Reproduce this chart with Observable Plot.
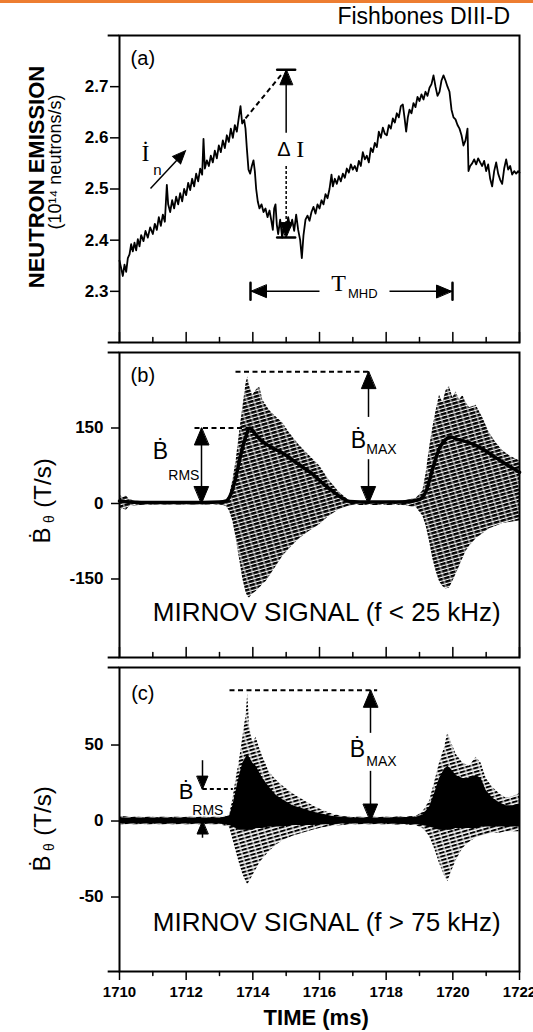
<!DOCTYPE html>
<html>
<head>
<meta charset="utf-8">
<script src="https://cdn.jsdelivr.net/npm/d3@7"></script>
<script src="https://cdn.jsdelivr.net/npm/@observablehq/plot@0.6"></script>
<style>
html, body { margin: 0; padding: 0; background: #fff; }
#wrap { position: relative; width: 533px; height: 1032px; overflow: hidden; background: #fff; }
#bar { position: absolute; left: 0; top: 0; width: 533px; height: 3px; background: #ED7D31; }
#title { position: absolute; right: 23px; top: 5px; font-family: "Liberation Sans", Arial, sans-serif; font-size: 23px; line-height: 23px; color: #000; white-space: nowrap; }
.panel { position: absolute; left: 0; }
</style>
</head>
<body>
<svg width="0" height="0" style="position:absolute;left:0;top:0">
  <defs>
    <pattern id="hatchB" patternUnits="userSpaceOnUse" width="7" height="3.6" patternTransform="rotate(-16)">
      <rect width="7" height="3.6" fill="#000"></rect>
      <rect y="2.5" width="7" height="1.1" fill="#fff"></rect>
      <rect x="4.5" y="0" width="0.9" height="2.5" fill="#fff"></rect>
    </pattern>
    <pattern id="hatchC" patternUnits="userSpaceOnUse" width="7" height="3.6" patternTransform="rotate(-16)">
      <rect width="7" height="3.6" fill="#fff"></rect>
      <rect width="7" height="2" fill="#000"></rect>
      <rect x="3.5" y="0" width="1.2" height="2" fill="#fff"></rect>
    </pattern>
  </defs>
</svg>
<div id="wrap">
  <div id="bar"></div>
  <div id="pa" class="panel" style="top:0px"></div>
  <div id="pb" class="panel" style="top:345px"></div>
  <div id="pc" class="panel" style="top:660px"></div>
  <div id="title">Fishbones DIII-D</div>
</div>
<script>
// ---------------- DATA ----------------
// Shared time axis (ms)
const timeDomain = [1710, 1722];
const timeTicks = [1710, 1712, 1714, 1716, 1718, 1720, 1722];
const timeMinorTicks = [1711, 1713, 1715, 1717, 1719, 1721];

// Panel (a): neutron emission (10^14 neutrons/s)
const neutronDomain = [2.2, 2.8];
const neutronTicks = [2.3, 2.4, 2.5, 2.6, 2.7];
const neutronT = [
  1710.00,1710.05,1710.10,1710.15,1710.20,1710.25,1710.30,1710.35,1710.40,1710.45,
  1710.50,1710.55,1710.60,1710.65,1710.72,1710.78,1710.85,1710.92,1711.00,1711.06,
  1711.12,1711.18,1711.24,1711.30,1711.36,1711.42,1711.46,1711.52,1711.58,1711.64,
  1711.70,1711.76,1711.82,1711.88,1711.94,1712.00,1712.06,1712.12,1712.18,1712.24,
  1712.30,1712.36,1712.42,1712.48,1712.52,1712.56,1712.62,1712.68,1712.74,1712.80,
  1712.86,1712.92,1712.98,1713.04,1713.10,1713.16,1713.22,1713.28,1713.34,1713.40,
  1713.46,1713.52,1713.58,1713.63,1713.68,1713.74,1713.78,1713.82,1713.87,1713.92,
  1713.97,1714.02,1714.06,1714.10,1714.15,1714.20,1714.26,1714.32,1714.38,1714.44,
  1714.50,1714.55,1714.60,1714.64,1714.68,1714.72,1714.76,1714.82,1714.88,1714.94,
  1715.00,1715.06,1715.12,1715.18,1715.24,1715.30,1715.36,1715.42,1715.47,1715.52,
  1715.58,1715.64,1715.70,1715.76,1715.82,1715.88,1715.94,1716.00,1716.06,1716.12,
  1716.18,1716.24,1716.30,1716.36,1716.40,1716.46,1716.52,1716.58,1716.64,1716.70,
  1716.76,1716.82,1716.88,1716.94,1717.00,1717.06,1717.12,1717.18,1717.24,1717.30,
  1717.36,1717.42,1717.48,1717.54,1717.60,1717.66,1717.72,1717.78,1717.84,1717.90,
  1717.96,1718.02,1718.08,1718.14,1718.20,1718.26,1718.32,1718.38,1718.44,1718.50,
  1718.55,1718.60,1718.65,1718.70,1718.76,1718.82,1718.88,1718.94,1719.00,1719.06,
  1719.12,1719.18,1719.24,1719.30,1719.36,1719.42,1719.48,1719.54,1719.60,1719.66,
  1719.72,1719.78,1719.84,1719.90,1719.96,1720.02,1720.08,1720.14,1720.20,1720.26,
  1720.32,1720.38,1720.44,1720.47,1720.52,1720.58,1720.64,1720.70,1720.76,1720.82,
  1720.88,1720.94,1721.00,1721.06,1721.12,1721.18,1721.24,1721.30,1721.36,1721.42,
  1721.48,1721.54,1721.60,1721.66,1721.72,1721.78,1721.84,1721.90,1721.96,1722.00
];
const neutronV = [
  2.360,2.345,2.330,2.352,2.338,2.365,2.372,2.392,2.378,2.395,
  2.380,2.402,2.388,2.410,2.398,2.418,2.405,2.425,2.412,2.432,
  2.420,2.445,2.428,2.450,2.436,2.508,2.470,2.455,2.478,2.462,
  2.485,2.470,2.492,2.476,2.500,2.488,2.512,2.498,2.520,2.505,
  2.530,2.515,2.540,2.528,2.598,2.540,2.556,2.545,2.565,2.552,
  2.575,2.560,2.585,2.572,2.595,2.580,2.605,2.592,2.618,2.600,
  2.625,2.612,2.640,2.662,2.628,2.635,2.618,2.580,2.538,2.530,
  2.545,2.556,2.535,2.500,2.475,2.462,2.470,2.455,2.462,2.445,
  2.458,2.440,2.420,2.462,2.470,2.430,2.412,2.440,2.405,2.430,
  2.415,2.445,2.425,2.440,2.418,2.450,2.420,2.400,2.365,2.410,
  2.440,2.448,2.438,2.455,2.465,2.452,2.470,2.462,2.478,2.470,
  2.490,2.482,2.500,2.528,2.505,2.520,2.510,2.525,2.515,2.530,
  2.522,2.540,2.532,2.548,2.538,2.545,2.535,2.555,2.545,2.572,
  2.558,2.565,2.552,2.580,2.572,2.590,2.582,2.612,2.600,2.620,
  2.608,2.605,2.625,2.618,2.638,2.630,2.648,2.640,2.662,2.665,
  2.640,2.612,2.640,2.655,2.648,2.668,2.660,2.680,2.672,2.685,
  2.675,2.690,2.682,2.698,2.705,2.722,2.700,2.682,2.690,2.712,
  2.722,2.712,2.700,2.690,2.655,2.640,2.636,2.625,2.618,2.605,
  2.585,2.595,2.618,2.535,2.545,2.550,2.558,2.548,2.560,2.552,
  2.545,2.555,2.535,2.548,2.520,2.505,2.535,2.552,2.530,2.518,
  2.510,2.540,2.558,2.538,2.545,2.528,2.535,2.530,2.535,2.532
];

// Panel (b): Mirnov signal f < 25 kHz (T/s) — envelope of the oscillation and its RMS
const mirnovLowDomain = [-306, 300];
const mirnovLowTicks = [-150, 0, 150];
const bT = [
  1710.0,1710.1,1710.2,1710.3,1710.4,1710.6,1711.0,1711.5,1712.0,1712.5,
  1713.0,1713.2,1713.3,1713.4,1713.5,1713.6,1713.7,1713.8,1713.85,1713.9,
  1714.0,1714.1,1714.2,1714.25,1714.3,1714.4,1714.5,1714.7,1714.9,1715.1,
  1715.4,1715.7,1716.0,1716.3,1716.6,1716.85,1717.0,1717.5,1718.0,1718.5,
  1718.9,1719.1,1719.2,1719.3,1719.4,1719.5,1719.6,1719.7,1719.8,1719.9,
  1720.0,1720.1,1720.2,1720.3,1720.4,1720.5,1720.7,1720.9,1721.1,1721.3,
  1721.5,1721.7,1721.9,1722.0
];
const bHi = [
  18,12,15,8,6,4,3,3,3,4,
  4,6,15,45,85,140,190,240,252,235,
  215,225,232,220,205,195,185,172,160,140,
  115,95,75,45,22,8,4,4,4,5,
  10,25,60,110,150,185,215,200,225,232,
  210,222,205,215,200,190,195,170,140,120,
  105,95,88,85
];
const bLo = [
  -15,-10,-14,-6,-5,-4,-3,-3,-3,-3,
  -3,-6,-15,-35,-70,-110,-150,-178,-185,-188,
  -180,-175,-168,-165,-160,-155,-145,-125,-105,-90,
  -70,-55,-42,-25,-12,-6,-4,-4,-4,-4,
  -8,-25,-45,-75,-110,-135,-155,-165,-170,-168,
  -155,-140,-125,-110,-95,-85,-70,-60,-50,-45,
  -40,-38,-36,-35
];
const bRmsT = [
  1710,1710.3,1711,1712,1713,1713.2,1713.35,1713.5,1713.65,1713.8,
  1713.9,1714.05,1714.2,1714.4,1714.6,1714.9,1715.2,1715.5,1715.8,1716.1,
  1716.4,1716.7,1716.9,1717.5,1718.5,1719.0,1719.2,1719.4,1719.6,1719.8,
  1719.95,1720.1,1720.3,1720.6,1720.9,1721.2,1721.5,1721.8,1722
];
const bRmsV = [
  5,3,2,2,3,5,20,55,100,135,
  150,140,128,118,110,100,86,72,58,40,
  24,10,4,3,3,8,25,70,110,128,
  132,128,125,118,108,95,82,70,62
];
const bMax = 262, bRms = 150;

// Panel (c): Mirnov signal f > 75 kHz (T/s)
const mirnovHighDomain = [-99, 101];
const mirnovHighTicks = [-50, 0, 50];
const cT = [
  1710.0,1710.5,1711.0,1712.0,1713.0,1713.3,1713.4,1713.5,1713.6,1713.7,
  1713.8,1713.85,1713.9,1714.0,1714.1,1714.2,1714.3,1714.5,1714.7,1714.9,
  1715.2,1715.5,1715.8,1716.1,1716.4,1716.7,1717.0,1718.0,1718.9,1719.1,
  1719.3,1719.45,1719.6,1719.75,1719.85,1719.95,1720.1,1720.3,1720.5,1720.7,
  1720.85,1721.0,1721.2,1721.4,1721.6,1721.8,1722.0
];
const cHi = [
  3,2.5,2.5,2.5,2.5,4,14,28,40,55,
  70,85,62,52,55,48,42,32,27,23,
  18,14,10,7,4.5,3,2.5,2.5,3,6,
  13,25,38,48,58,52,44,38,36,42,
  38,28,22,18,15,16,18
];
const cLo = [
  -2.5,-2.5,-2.5,-2.5,-2.5,-4,-12,-20,-28,-35,
  -40,-42,-40,-36,-32,-28,-25,-20,-16,-13,
  -10,-8,-6,-4.5,-3.5,-3,-2.5,-2.5,-3,-5,
  -10,-18,-28,-36,-40,-34,-26,-18,-14,-11,
  -10,-9,-8,-8,-7,-7,-7
];
const cCoreHi = [
  2,2,2,2,2,3,10,20,30,38,
  42,44,42,38,36,32,28,22,17,14,
  10,8,6,4.5,3,2.5,2,2,2.5,4,
  9,18,28,34,36,34,30,28,28,30,
  28,20,15,12,10,10,11
];
const cCoreLo = [
  -2,-2,-2,-2,-2,-3,-4,-5,-6,-6,
  -6,-6,-6,-6,-5,-5,-5,-4,-4,-4,
  -3,-3,-3,-2.5,-2.5,-2,-2,-2,-2.5,-3,
  -4,-5,-6,-6,-6,-6,-5,-5,-5,-5,
  -4,-4,-4,-4,-4,-4,-4
];
const cMax = 86, cRms = 21;

// ---------------- CHART ----------------
const FONT = '"Liberation Sans", Arial, Helvetica, sans-serif';
const SERIF = '"Liberation Serif", "Times New Roman", serif';
const BLACK = "#000";
const svgStyle = {fontFamily: FONT, fontSize: "16px", color: BLACK, background: "transparent", overflow: "visible"};
const W = 533, ML = 119, MR = 14;
const frameExtendT = 1709.66;

const lineShape = {draw(c, l) { c.moveTo(0, 0); c.lineTo(0, -l); }};
const barShape = {draw(c, l) { c.moveTo(0, -l / 2); c.lineTo(0, l / 2); }};
const headShape = {draw(c, l) { const w = l * 0.42; c.moveTo(0, 0); c.lineTo(-w, l); c.lineTo(w, l); c.closePath(); }};

const neutron = neutronT.map((t, i) => ({t, v: neutronV[i]}));
const bEnv = bT.map((t, i) => ({t, hi: bHi[i], lo: bLo[i]}));
const bRmsSeries = bRmsT.map((t, i) => ({t, v: bRmsV[i]}));
const cEnv = cT.map((t, i) => ({t, hi: cHi[i], lo: cLo[i], chi: cCoreHi[i], clo: cCoreLo[i]}));

const frameMarks = (dom) => [
  Plot.frame({stroke: BLACK, strokeWidth: 2}),
  Plot.ruleY([dom[0], dom[1]], {x1: frameExtendT, x2: timeDomain[0], stroke: BLACK, strokeWidth: 2})
];
const innerTicks = () => [
  Plot.vectorX(timeTicks, {x: d => d, frameAnchor: "bottom", length: 10, anchor: "start", shape: lineShape, stroke: BLACK, strokeWidth: 1.5}),
  Plot.vectorX(timeMinorTicks, {x: d => d, frameAnchor: "bottom", length: 5, anchor: "start", shape: lineShape, stroke: BLACK, strokeWidth: 1.5})
];
const links = (arr, o = {}) => Plot.link(arr, {x1: "t1", y1: "v1", x2: "t2", y2: "v2", stroke: BLACK, strokeWidth: 1.5, ...o});
const heads = (arr, len = 14) => Plot.vector(arr, {x: "t", y: "v", rotate: "ang", length: len, anchor: "start", shape: headShape, fill: BLACK, stroke: BLACK, strokeWidth: 1, strokeLinejoin: "miter"});
const caps = (arr, len = 18) => Plot.vector(arr, {x: "t", y: "v", rotate: "ang", length: len, anchor: "start", shape: barShape, stroke: BLACK, strokeWidth: 2.5});
const txt = (arr, o = {}) => Plot.text(arr, {x: "t", y: "v", text: "s", fill: BLACK, ...o});
const sideLabel = (s, dx, dy, o = {}) => Plot.text([s], {frameAnchor: "left", rotate: -90, textAnchor: "middle", lineAnchor: "middle", dx, dy, fill: BLACK, ...o});
const dash = "5,3.5";

// ----- Panel (a)
const deltaT = 1715.0;
const plotA = Plot.plot({
  width: W, height: 348, marginLeft: ML, marginRight: MR, marginTop: 35, marginBottom: 6,
  x: {domain: timeDomain, axis: null},
  y: {domain: neutronDomain, axis: null},
  style: svgStyle,
  marks: [
    ...frameMarks(neutronDomain),
    Plot.axisY({ticks: neutronTicks, tickSize: 9, tickPadding: 2, tickFormat: d => d.toFixed(1), fontSize: 17, fontWeight: "bold", label: null, strokeWidth: 1.5}),
    ...innerTicks(),
    Plot.line(neutron, {x: "t", y: "v", stroke: BLACK, strokeWidth: 1.8}),
    // dashed extrapolation of the rise
    links([{t1: 1713.78, v1: 2.638, t2: 1714.9, v2: 2.727}], {strokeWidth: 2, strokeDasharray: dash}),
    // Delta I
    links([{t1: deltaT, v1: 2.733, t2: deltaT, v2: 2.61}]),
    links([{t1: deltaT, v1: 2.545, t2: deltaT, v2: 2.41}], {strokeDasharray: "3,2"}),
    caps([{t: deltaT, v: 2.733, ang: 90}, {t: deltaT, v: 2.405, ang: 90}], 18),
    heads([{t: deltaT, v: 2.733, ang: 0}, {t: deltaT, v: 2.405, ang: 180}], 15),
    txt([{t: 1714.93, v: 2.577, s: "Δ"}], {fontSize: 20}),
    txt([{t: 1715.42, v: 2.577, s: "I"}], {fontSize: 24, fontFamily: SERIF}),
    // I_n rate arrow
    links([{t1: 1710.93, v1: 2.501, t2: 1711.93, v2: 2.571}]),
    heads([{t: 1711.98, v: 2.575, ang: 43}], 13),
    txt([{t: 1710.78, v: 2.569, s: "İ"}], {fontSize: 24, fontFamily: SERIF}),
    txt([{t: 1711.14, v: 2.536, s: "n"}], {fontSize: 15}),
    // T_MHD
    links([{t1: 1713.93, v1: 2.30, t2: 1716.0, v2: 2.30}, {t1: 1718.1, v1: 2.30, t2: 1719.99, v2: 2.30}]),
    caps([{t: 1713.93, v: 2.30, ang: 0}, {t: 1719.99, v: 2.30, ang: 0}], 17),
    heads([{t: 1713.96, v: 2.30, ang: -90}, {t: 1719.96, v: 2.30, ang: 90}], 15),
    txt([{t: 1716.57, v: 2.315, s: "T"}], {fontSize: 24, fontFamily: SERIF}),
    txt([{t: 1717.3, v: 2.296, s: "MHD"}], {fontSize: 13}),
    txt([{t: 1710.7, v: 2.755, s: "(a)"}], {fontSize: 20}),
    sideLabel("NEUTRON EMISSION", -83, -12, {fontSize: 22, fontWeight: "bold"}),
    sideLabel("(10¹⁴ neutrons/s)", -64, -27, {fontSize: 18})
  ]
});
document.getElementById("pa").appendChild(plotA);

// ----- Panel (b)
const bMaxT = 1717.47, bRmsArrowT = 1712.46;
const plotB = Plot.plot({
  width: W, height: 315, marginLeft: ML, marginRight: MR, marginTop: 7, marginBottom: 3,
  x: {domain: timeDomain, axis: null},
  y: {domain: mirnovLowDomain, axis: null},
  style: svgStyle,
  marks: [
    Plot.area(bEnv, {x1: "t", y1: "lo", y2: "hi", fill: "url(#hatchB)", curve: "linear"}),
    Plot.line(bRmsSeries, {x: "t", y: "v", stroke: BLACK, strokeWidth: 3.5, curve: "monotone-x"}),
    ...frameMarks(mirnovLowDomain),
    Plot.axisY({ticks: mirnovLowTicks, tickSize: 8, tickPadding: 8, tickFormat: d => String(d), fontSize: 17, fontWeight: "bold", label: null, strokeWidth: 1.5}),
    ...innerTicks(),
    // B_MAX
    links([{t1: 1713.48, v1: bMax, t2: bMaxT, v2: bMax}], {strokeWidth: 2, strokeDasharray: dash}),
    links([{t1: bMaxT, v1: bMax, t2: bMaxT, v2: 172}, {t1: bMaxT, v1: 88, t2: bMaxT, v2: 0}]),
    heads([{t: bMaxT, v: bMax, ang: 0}, {t: bMaxT, v: 0, ang: 180}], 17),
    txt([{t: 1717.17, v: 125, s: "Ḃ"}], {fontSize: 23}),
    txt([{t: 1717.86, v: 107, s: "MAX"}], {fontSize: 14}),
    // B_RMS
    links([{t1: 1712.25, v1: bRms, t2: 1713.9, v2: bRms}], {strokeWidth: 2, strokeDasharray: dash}),
    links([{t1: bRmsArrowT, v1: bRms, t2: bRmsArrowT, v2: 0}]),
    heads([{t: bRmsArrowT, v: bRms, ang: 0}, {t: bRmsArrowT, v: 0, ang: 180}], 17),
    txt([{t: 1711.23, v: 103, s: "Ḃ"}], {fontSize: 23}),
    txt([{t: 1711.93, v: 55, s: "RMS"}], {fontSize: 14}),
    txt([{t: 1710.7, v: 254, s: "(b)"}], {fontSize: 20}),
    txt([{t: 1711.0, v: -217, s: "MIRNOV SIGNAL (f < 25 kHz)"}], {fontSize: 26, textAnchor: "start"}),
    sideLabel("Ḃ", -77, 30.5, {fontSize: 24}),
    sideLabel("θ", -70, 14, {fontSize: 14}),
    sideLabel("(T/s)", -76, -22, {fontSize: 24})
  ]
});
document.getElementById("pb").appendChild(plotB);

// ----- Panel (c)
const cMaxT = 1717.53, cRmsArrowT = 1712.49;
const plotC = Plot.plot({
  width: W, height: 372, marginLeft: ML, marginRight: MR, marginTop: 7, marginBottom: 61,
  x: {domain: timeDomain, axis: null},
  y: {domain: mirnovHighDomain, axis: null},
  style: svgStyle,
  marks: [
    Plot.area(cEnv, {x1: "t", y1: "lo", y2: "hi", fill: "url(#hatchC)", curve: "linear"}),
    Plot.area(cEnv, {x1: "t", y1: "clo", y2: "chi", fill: BLACK, curve: "linear"}),
    ...frameMarks(mirnovHighDomain),
    Plot.axisY({ticks: mirnovHighTicks, tickSize: 8, tickPadding: 8, tickFormat: d => String(d), fontSize: 17, fontWeight: "bold", label: null, strokeWidth: 1.5}),
    Plot.axisX({ticks: timeTicks, tickSize: 9, tickPadding: 6, tickFormat: d => String(d), fontSize: 15, fontWeight: "bold", label: null, strokeWidth: 1.5}),
    Plot.vectorX(timeMinorTicks, {x: d => d, frameAnchor: "bottom", length: 4, anchor: "start", rotate: 180, shape: lineShape, stroke: BLACK, strokeWidth: 1.5}),
    // B_MAX
    links([{t1: 1713.3, v1: cMax, t2: 1717.73, v2: cMax}], {strokeWidth: 2, strokeDasharray: dash}),
    links([{t1: cMaxT, v1: cMax, t2: cMaxT, v2: 58}, {t1: cMaxT, v1: 33, t2: cMaxT, v2: 0}]),
    heads([{t: cMaxT, v: cMax, ang: 0}, {t: cMaxT, v: 0, ang: 180}], 17),
    txt([{t: 1717.14, v: 47, s: "Ḃ"}], {fontSize: 23}),
    txt([{t: 1717.86, v: 39, s: "MAX"}], {fontSize: 14}),
    // B_RMS
    links([{t1: 1712.5, v1: cRms, t2: 1713.4, v2: cRms}], {strokeWidth: 2, strokeDasharray: "4,3"}),
    links([{t1: cRmsArrowT, v1: 40, t2: cRmsArrowT, v2: cRms}, {t1: cRmsArrowT, v1: -11, t2: cRmsArrowT, v2: 0}]),
    heads([{t: cRmsArrowT, v: cRms, ang: 180}, {t: cRmsArrowT, v: 0, ang: 0}], 13),
    txt([{t: 1712.0, v: 19, s: "Ḃ"}], {fontSize: 22}),
    txt([{t: 1712.65, v: 6.6, s: "RMS"}], {fontSize: 14}),
    txt([{t: 1710.7, v: 84, s: "(c)"}], {fontSize: 20}),
    txt([{t: 1711.0, v: -67, s: "MIRNOV SIGNAL (f > 75 kHz)"}], {fontSize: 26, textAnchor: "start"}),
    Plot.text(["TIME (ms)"], {x: () => 1715.9, frameAnchor: "bottom", lineAnchor: "middle", dy: 46, fontSize: 22, fontWeight: "bold", fill: BLACK}),
    sideLabel("Ḃ", -77, 44, {fontSize: 24}),
    sideLabel("θ", -70, 27.5, {fontSize: 14}),
    sideLabel("(T/s)", -76, -8.5, {fontSize: 24})
  ]
});
document.getElementById("pc").appendChild(plotC);
</script>
</body>
</html>
